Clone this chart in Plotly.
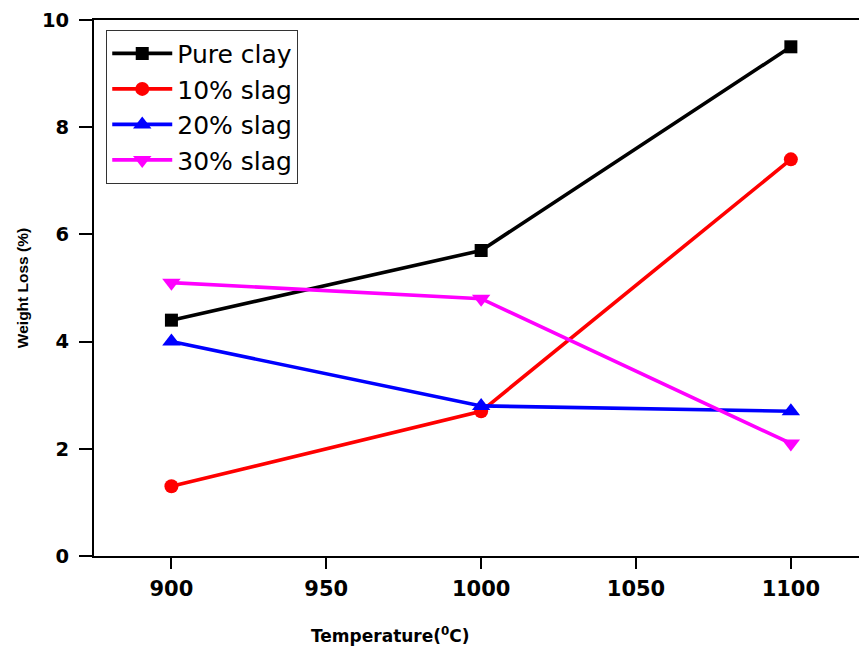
import plotly.graph_objects as go

temperature = [900, 1000, 1100]
pure_clay = [4.4, 5.7, 9.5]
slag_10 = [1.3, 2.7, 7.4]
slag_20 = [4.0, 2.8, 2.7]
slag_30 = [5.1, 4.8, 2.1]

series = [
    ("Pure clay", pure_clay, "#000000", "square", 13),
    ("10% slag", slag_10, "#FF0000", "circle", 14),
    ("20% slag", slag_20, "#0000FF", "triangle-up", 16),
    ("30% slag", slag_30, "#FF00FF", "triangle-down", 16),
]

fig = go.Figure()
for name, vals, color, sym, msize in series:
    fig.add_trace(go.Scatter(
        x=temperature, y=vals, name=name, mode="lines+markers",
        line=dict(color=color, width=3.6),
        marker=dict(symbol=sym, size=msize, color=color),
    ))

ff = "DejaVu Sans, Liberation Sans, sans-serif"
ff_arial = "Liberation Sans, Arial, sans-serif"

fig.update_layout(
    width=859, height=652,
    margin=dict(l=94, r=0, t=20, b=96),
    plot_bgcolor="white", paper_bgcolor="white",
    showlegend=True,
    legend=dict(
        x=0.016, y=0.982, xanchor="left", yanchor="top",
        bgcolor="white", bordercolor="#333333", borderwidth=1,
        font=dict(family=ff, size=25, color="black"),
        itemwidth=60, tracegroupgap=0,
    ),
    font=dict(family=ff, color="black"),
)

fig.update_xaxes(
    range=[875, 1122], tickvals=[900, 950, 1000, 1050, 1100],
    showline=True, linecolor="black", linewidth=2, mirror=True,
    ticks="outside", ticklen=11, tickwidth=2, tickcolor="black",
    tickfont=dict(family=ff, size=21, color="black", weight="bold"),
    ticklabelstandoff=2,
    showgrid=False, zeroline=False,
)
fig.update_yaxes(
    range=[0, 10], tickvals=[0, 2, 4, 6, 8, 10],
    showline=True, linecolor="black", linewidth=2, mirror=False,
    ticks="outside", ticklen=13, tickwidth=2, tickcolor="black",
    tickfont=dict(family=ff, size=19.5, color="black", weight="bold"),
    ticklabelstandoff=6,
    showgrid=False, zeroline=False,
    title=dict(text="Weight Loss (%)", standoff=10,
               font=dict(family=ff_arial, size=15.5, color="black", weight="bold")),
)

fig.add_annotation(
    text="<b>Temperature(<sup>0</sup>C)</b>",
    xref="paper", yref="paper", x=0.388, y=-0.148,
    xanchor="center", yanchor="middle", showarrow=False,
    font=dict(family=ff, size=17, color="black"),
)

fig.write_html("out.html")
